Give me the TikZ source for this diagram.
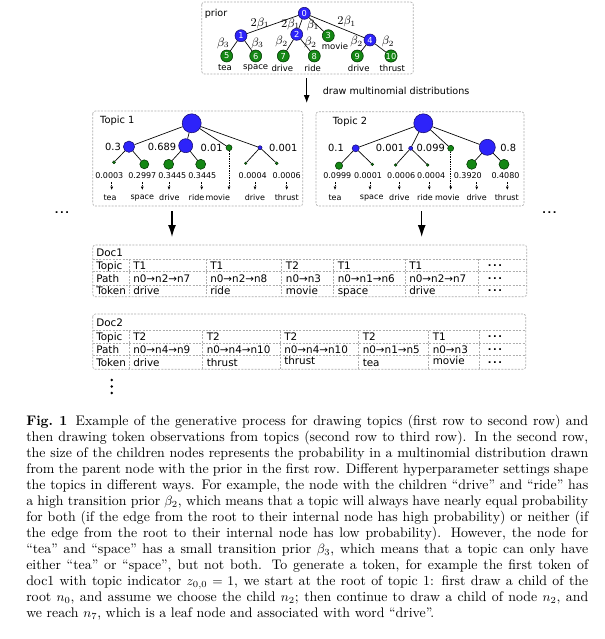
\documentclass[tikz,border=0pt]{standalone}
\usepackage{fontspec}
\newfontfamily\dv{DejaVu Sans}
\usetikzlibrary{arrows.meta}
\definecolor{nblue}{RGB}{45,35,250}
\definecolor{nbluedk}{RGB}{20,10,110}
\definecolor{ngreen}{RGB}{20,135,20}
\definecolor{ngreendk}{RGB}{0,50,0}
\definecolor{boxgray}{RGB}{175,175,175}
\tikzset{
  lbl/.style={font=\dv\fontsize{7.2}{8}\selectfont, inner sep=0pt},
  elbl/.style={font=\fontsize{9}{10}\selectfont, inner sep=0pt},
  small/.style={font=\dv\fontsize{6.4}{7}\selectfont, inner sep=0pt},
  word/.style={font=\dv\fontsize{6}{7}\selectfont, inner sep=0pt},
  prob/.style={font=\dv\fontsize{6}{7}\selectfont, inner sep=0pt},
  big/.style={font=\dv\fontsize{7.4}{8}\selectfont, inner sep=0pt},
  tab/.style={font=\dv\fontsize{7.8}{8}\selectfont, inner sep=0pt, anchor=base west},
  frame/.style={draw=boxgray, dash pattern=on 1.5pt off 1pt, rounded corners=2pt, line width=0.5pt},
  gridl/.style={draw=boxgray, dash pattern=on 1.5pt off 1pt, line width=0.5pt},
  bn/.style={circle, fill=nblue, draw=nbluedk, line width=0.4pt, inner sep=0pt},
  gn/.style={circle, fill=ngreen, draw=ngreendk, line width=0.4pt, inner sep=0pt},
  pnum/.style={minimum size=9pt, text=white, font=\dv\fontsize{6.2}{6}\selectfont},
  edge/.style={line width=0.5pt},
  dasharrow/.style={dash pattern=on 1pt off 0.8pt, line width=0.45pt, -{Latex[length=2.6pt,width=2.2pt]}},
  bigarrow/.style={line width=1pt, -{Latex[length=9pt,width=6pt]}},
}
\begin{document}
\begin{tikzpicture}[x=0.75pt,y=-0.75pt]
\useasboundingbox[fill=white] (0,0) rectangle (604,639);
% ---------- prior ----------
\draw[frame] (201.7,2) rectangle (413.3,74);
\node[lbl, anchor=west] (prior) at (204.5,14) {prior};
\node[bn, pnum] (p0) at (304.3,13.3) {0};
\node[bn, pnum] (p1) at (241,35.7) {1};
\node[bn, pnum] (p2) at (296.7,34.3) {2};
\node[gn, pnum] (p3) at (328.3,35.7) {3};
\node[bn, pnum] (p4) at (370,40) {4};
\node[gn, pnum] (p5) at (226.7,56) {5};
\node[gn, pnum] (p6) at (255.7,56) {6};
\node[gn, pnum] (p7) at (283.3,56) {7};
\node[gn, pnum] (p8) at (314.3,56) {8};
\node[gn, pnum] (p9) at (357.3,56) {9};
\node[gn, pnum] (p10) at (391,56) {10};
\foreach \a/\b in {p0/p1,p0/p2,p0/p3,p0/p4,p1/p5,p1/p6,p2/p7,p2/p8,p4/p9,p4/p10}
  \draw[edge] (\a) -- (\b);
\node[elbl] (e1) at (260,23.3) {$2\beta_1$};
\node[elbl] (e2) at (290.5,24) {$2\beta_1$};
\node[elbl] (e3) at (313,25) {$\beta_1$};
\node[elbl] (e4) at (346.7,21.7) {$2\beta_1$};
\node[elbl] (e5) at (223.3,43.3) {$\beta_3$};
\node[elbl] (e6) at (257.5,43.3) {$\beta_3$};
\node[elbl] (e7) at (281.7,41.7) {$\beta_2$};
\node[elbl] (e8) at (310.5,42.7) {$\beta_2$};
\node[elbl] (e9) at (356.7,41.7) {$\beta_2$};
\node[elbl] (e10) at (388,41.7) {$\beta_2$};
\node[small] (wmovie) at (335,46.5) {movie};
\node[small] (w5) at (225,68) {tea};
\node[small] (w6) at (255.7,68) {space};
\node[small] (w7) at (282.3,68) {drive};
\node[small] (w8) at (312.7,68) {ride};
\node[small] (w9) at (358.7,68) {drive};
\node[small] (w10) at (392.3,68) {thrust};
% ---------- draw arrow ----------
\coordinate (da1) at (306.7,78);
\coordinate (da2) at (306.7,103);
\draw[line width=0.7pt, -{Latex[length=6pt,width=4.5pt]}] (da1) -- (da2);
\node[lbl, anchor=west] (dmd) at (322.5,90.5) {draw multinomial distributions};
% ---------- topic 1 ----------
\draw[frame] (92.7,111) rectangle (302.7,206);
\node[big] (t1) at (117.3,120.7) {Topic 1};
\node[bn, minimum size=14.25pt] (a0) at (191.7,123.3) {};
\node[bn, minimum size=8.5pt] (a1) at (129,146.7) {};
\node[bn, minimum size=10.5pt] (a2) at (185.7,145.7) {};
\node[gn, minimum size=4.5pt] (a3) at (229,147.7) {};
\node[bn, minimum size=3pt] (a4) at (260,147.7) {};
\node[gn, minimum size=2.2pt] (a5) at (114,162.3) {};
\node[gn, minimum size=6.75pt] (a6) at (144.3,164.3) {};
\node[gn, minimum size=7.5pt] (a7) at (168.7,164.3) {};
\node[gn, minimum size=7.5pt] (a8) at (200.7,164.3) {};
\node[gn, minimum size=1.8pt] (a9) at (245.7,163.3) {};
\node[gn, minimum size=2.2pt] (a10) at (276.7,163.3) {};
\foreach \a/\b in {a0/a1,a0/a2,a0/a3,a0/a4,a1/a5,a1/a6,a2/a7,a2/a8,a4/a9,a4/a10}
  \draw[edge] (\a) -- (\b);
\node[big] (al1) at (113,146.7) {0.3};
\node[big] (al2) at (162,146.7) {0.689};
\node[big] (al3) at (211.7,147.7) {0.01};
\node[big] (al4) at (283.3,147.7) {0.001};
\foreach \x/\t [count=\i] in {109.3/0.0003,142.3/0.2997,172.3/0.3445,202.3/0.3445,252.7/0.0004,286.7/0.0006}
  \node[prob] (ap\i) at (\x,175.7) {\t};
\foreach \x [count=\i] in {111.7,142.3,169,201.7,255,286.7}{
  \coordinate (as\i) at (\x,182.3);
  \coordinate (ae\i) at (\x,190);
  \draw[dasharrow] (as\i) -- (ae\i);
}
\coordinate (amv) at (229,190);
\draw[dasharrow] (a3) -- (amv);
\foreach \x/\t [count=\i] in {110/tea,142.3/space,169.3/drive,196.5/ride,217.8/movie,255/drive,286.7/thrust}
  \node[word] (aw\i) at (\x,197.7) {\t};
% ---------- topic 2 ----------
\draw[frame] (316,111.7) rectangle (524,206);
\node[big] (t2) at (350,121.7) {Topic 2};
\node[bn, minimum size=14.25pt] (b0) at (423.3,123.3) {};
\node[bn, minimum size=5.25pt] (b1) at (355.7,148.3) {};
\node[bn, minimum size=3pt] (b2) at (410.7,148.3) {};
\node[gn, minimum size=4.5pt] (b3) at (450.7,148.3) {};
\node[bn, minimum size=12pt] (b4) at (487.3,147.3) {};
\node[gn, minimum size=5.5pt] (b5) at (339,165.7) {};
\node[gn, minimum size=2pt] (b6) at (372.3,164.3) {};
\node[gn, minimum size=2pt] (b7) at (395.7,165) {};
\node[gn, minimum size=2pt] (b8) at (427.7,165) {};
\node[gn, minimum size=7.5pt] (b9) at (471.7,164.3) {};
\node[gn, minimum size=7.5pt] (b10) at (504,164.3) {};
\foreach \a/\b in {b0/b1,b0/b2,b0/b3,b0/b4,b1/b5,b1/b6,b2/b7,b2/b8,b4/b9,b4/b10}
  \draw[edge] (\a) -- (\b);
\node[big] (bl1) at (336,148.3) {0.1};
\node[big] (bl2) at (390,148.3) {0.001};
\node[big] (bl3) at (430.7,148.3) {0.099};
\node[big] (bl4) at (508.3,148.3) {0.8};
\foreach \x/\t [count=\i] in {337.3/0.0999,368/0.0001,401.2/0.0006,431.2/0.0004,467.8/0.3920,505.5/0.4080}
  \node[prob] (bp\i) at (\x,176) {\t};
\foreach \x [count=\i] in {335,370,399.3,429.3,476.7,507.3}{
  \coordinate (bs\i) at (\x,182.3);
  \coordinate (be\i) at (\x,190);
  \draw[dasharrow] (bs\i) -- (be\i);
}
\coordinate (bmv) at (450.7,190);
\draw[dasharrow] (b3) -- (bmv);
\foreach \x/\t [count=\i] in {335/tea,371.7/space,399.3/drive,425/ride,447.3/movie,476.7/drive,506.7/thrust}
  \node[word] (bw\i) at (\x,197.7) {\t};
% ---------- dots and big arrows ----------
\node[lbl] (dl) at (62,213) {\textbf{.\kern1.2pt.\kern1.2pt.}};
\node[lbl] (dr) at (549.5,213) {\textbf{.\kern1.2pt.\kern1.2pt.}};
\coordinate (g1s) at (172,211); \coordinate (g1e) at (172,237);
\coordinate (g2s) at (421.7,211); \coordinate (g2e) at (421.7,237);
\draw[bigarrow] (g1s) -- (g1e);
\draw[bigarrow] (g2s) -- (g2e);
% ---------- Doc1 ----------
\draw[frame] (92.7,245) rectangle (526.7,296.7);
\foreach \y in {259,271.7,285} \draw[gridl] (92.7,\y) -- (526.7,\y);
\foreach \x in {129,206,281.7,333.3,405,478.3} \draw[gridl] (\x,259) -- (\x,296.7);
\node[tab] (d1) at (96,256.1) {Doc1};
\node[tab] (d1r1) at (96,269.3) {Topic};
\node[tab] (d1r2) at (96,282.1) {Path};
\node[tab] (d1r3) at (96,294.8) {Token};
\foreach \x/\a/\b/\c [count=\i] in {133/T1/n0→n2→n7/drive,210/T1/n0→n2→n8/ride,285.7/T2/n0→n3/movie,337.5/T1/n0→n1→n6/space,409/T1/n0→n2→n7/drive}{
  \node[tab] (d1a\i) at (\x,269.3) {\a};
  \node[tab] (d1b\i) at (\x,282.1) {\b};
  \node[tab] (d1c\i) at (\x,294.8) {\c};
}
\foreach \y [count=\i] in {265.5,278.3,291}
  \node[lbl] (d1d\i) at (495,\y) {\textbf{.\kern1.2pt.\kern1.2pt.}};
% ---------- Doc2 ----------
\draw[frame] (92.7,314) rectangle (525.7,369.3);
\foreach \y in {330.7,343.3,355.7} \draw[gridl] (92.7,\y) -- (525.7,\y);
\foreach \x in {129.3,202.3,280,358.3,428.3,479} \draw[gridl] (\x,330.7) -- (\x,369.3);
\node[tab] (d2) at (96,326.1) {Doc2};
\node[tab] (d2r1) at (96,340.8) {Topic};
\node[tab] (d2r2) at (96,353.3) {Path};
\node[tab] (d2r3) at (96,366.1) {Token};
\foreach \x/\a/\b/\c/\yc [count=\i] in {133/T2/n0→n4→n9/drive/366.1,206.5/T2/n0→n4→n10/thrust/366.1,284/T2/n0→n4→n10/thrust/364.6,362.5/T2/n0→n1→n5/tea/366.1,432.5/T1/n0→n3/movie/364.6}{
  \node[tab] (d2a\i) at (\x,340.8) {\a};
  \node[tab] (d2b\i) at (\x,353.3) {\b};
  \node[tab] (d2c\i) at (\x,\yc) {\c};
}
\foreach \y [count=\i] in {337,349.5,362.3}
  \node[lbl] (d2d\i) at (495,\y) {\textbf{.\kern1.2pt.\kern1.2pt.}};
\fill (111.7,380) circle (1.4);
\fill (111.7,386.5) circle (1.4);
\fill (111.7,393) circle (1.4);
% ---------- caption ----------
\node[anchor=base west, inner sep=0pt] (cap) at (26,425.5) {\parbox[t]{421.5pt}{\fontsize{10.4}{12}\selectfont\parindent=0pt
\textbf{Fig.\ 1}\hspace{0.6em}Example of the generative process for drawing topics (first row to second row) and\linebreak
then drawing token observations from topics (second row to third row). In the second row,\linebreak
the size of the children nodes represents the probability in a multinomial distribution drawn\linebreak
from the parent node with the prior in the first row. Different hyperparameter settings shape\linebreak
the topics in different ways. For example, the node with the children “drive” and “ride” has\linebreak
a high transition prior $\beta_2$, which means that a topic will always have nearly equal probability\linebreak
for both (if the edge from the root to their internal node has high probability) or neither (if\linebreak
the edge from the root to their internal node has low probability). However, the node for\linebreak
“tea” and “space” has a small transition prior $\beta_3$, which means that a topic can only have\linebreak
either “tea” or “space”, but not both. To generate a token, for example the first token of\linebreak
doc1 with topic indicator $z_{0,0}=1$, we start at the root of topic 1: first draw a child of the\linebreak
root $n_0$, and assume we choose the child $n_2$; then continue to draw a child of node $n_2$, and\linebreak
we reach $n_7$, which is a leaf node and associated with word “drive”.}};
\end{tikzpicture}
\end{document}
